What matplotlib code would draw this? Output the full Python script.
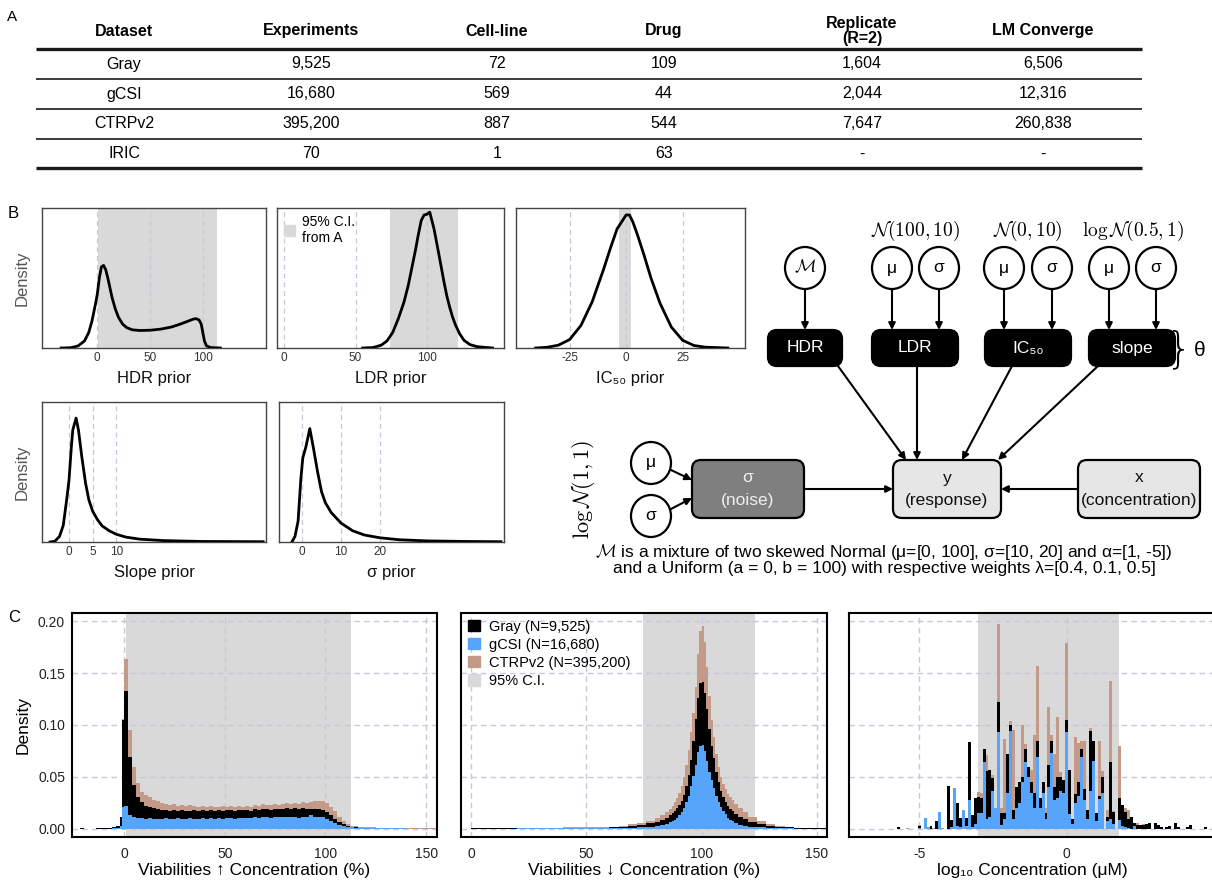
import matplotlib
matplotlib.use('Agg')
import matplotlib.pyplot as plt
from matplotlib.patches import FancyBboxPatch, Ellipse, Patch
import numpy as np

plt.rcParams['font.family'] = ['Liberation Sans', 'DejaVu Sans']
plt.rcParams['mathtext.fontset'] = 'cm'

# ---------------- data ----------------
table_columns = ['Dataset', 'Experiments', 'Cell-line', 'Drug', 'Replicate\n(R=2)', 'LM Converge']
table_datasets = ['Gray', 'gCSI', 'CTRPv2', 'IRIC']
table_experiments = ['9,525', '16,680', '395,200', '70']
table_celllines = ['72', '569', '887', '1']
table_drugs = ['109', '44', '544', '63']
table_replicates = ['1,604', '2,044', '7,647', '-']
table_lm_converge = ['6,506', '12,316', '260,838', '-']

# prior density curves (relative height)
hdr_x = [-34, -25, -18, -12, -8, -5, -2, 0, 2, 4, 6, 8, 10, 12, 14, 17, 20, 24, 28, 33, 40, 50, 60,
         70, 78, 85, 90, 93, 96, 98, 99.5, 101, 103, 107, 116]
hdr_y = [0, 0.002, 0.015, 0.05, 0.11, 0.19, 0.30, 0.38, 0.50, 0.58, 0.59, 0.56, 0.50, 0.43, 0.36, 0.28,
         0.22, 0.17, 0.145, 0.13, 0.125, 0.127, 0.135, 0.15, 0.17, 0.19, 0.205, 0.21, 0.20, 0.17, 0.11,
         0.05, 0.015, 0.003, 0]
ldr_x = [55, 62, 68, 72, 76, 80, 84, 87, 90, 92, 94, 96, 98, 100, 101, 102, 103, 105, 108, 110, 112,
         114, 116, 118, 120, 123, 126, 130, 135, 140, 146]
ldr_y = [0, 0.003, 0.02, 0.05, 0.11, 0.21, 0.33, 0.45, 0.60, 0.70, 0.81, 0.91, 0.95, 0.955, 0.965,
         0.97, 0.93, 0.85, 0.69, 0.58, 0.47, 0.37, 0.29, 0.22, 0.165, 0.10, 0.055, 0.025, 0.01, 0.005, 0]
ic50_x = [-40, -35, -30, -25, -20, -15, -10, -7, -4, -2, 0, 1.5, 3, 5, 8, 11, 15, 20, 25, 30, 35, 45]
ic50_y = [0, 0.005, 0.02, 0.06, 0.16, 0.33, 0.56, 0.71, 0.85, 0.90, 0.95, 0.95, 0.90, 0.81, 0.66,
          0.50, 0.32, 0.15, 0.055, 0.018, 0.006, 0]
slope_x = [-4, -3, -2, -1.2, -0.5, 0, 0.5, 0.8, 1.5, 2, 2.7, 3.5, 4.2, 5, 6, 7, 8.5, 10, 12, 15, 20, 28, 41]
slope_y = [0, 0.005, 0.04, 0.12, 0.30, 0.44, 0.68, 0.80, 0.885, 0.80, 0.61, 0.42, 0.30, 0.22, 0.16,
           0.115, 0.08, 0.055, 0.035, 0.02, 0.01, 0.004, 0.002]
sigma_x = [-2.6, -1.8, -1, -0.3, 0.2, 1, 2, 3, 4, 5, 6, 7.5, 10, 13, 16, 20, 25, 32, 42, 51]
sigma_y = [0, 0.04, 0.15, 0.45, 0.60, 0.68, 0.81, 0.66, 0.50, 0.36, 0.28, 0.21, 0.135, 0.08, 0.05,
           0.03, 0.016, 0.008, 0.004, 0.002]

hdr_ci = (0.5, 113)
ldr_ci = (74, 122)
ic50_ci = (-3, 2)

# Panel C left: viabilities where response increases with concentration
visup_edges = [-22, -20, -14, -6, -4, -2, -1, 0, 2, 4, 6, 8, 10, 12, 14, 16, 18, 20, 22, 24, 26, 28,
               30, 32, 34, 36, 38, 40, 42, 44, 46, 48, 50, 52, 54, 56, 58, 60, 62, 64, 66, 68, 70, 72,
               74, 76, 78, 80, 82, 84, 86, 88, 90, 92, 94, 96, 98, 100, 102, 104, 106, 108, 110, 112,
               114, 116, 118, 120, 125, 130, 140, 156]
visup_ctrp = [0, 0, 0.001, 0.002, 0.003, 0.012, 0.106,
              0.163, 0.095, 0.060, 0.044, 0.036, 0.033, 0.031, 0.028, 0.027, 0.025,
              0.024, 0.023, 0.024, 0.022, 0.023, 0.022, 0.023, 0.022, 0.021, 0.022,
              0.021, 0.022, 0.021, 0.021, 0.022, 0.021, 0.022, 0.021, 0.022, 0.021,
              0.022, 0.021, 0.023, 0.022, 0.024, 0.023, 0.023, 0.024, 0.023, 0.024,
              0.025, 0.024, 0.025, 0.024, 0.026, 0.025, 0.026, 0.027, 0.027, 0.027,
              0.025, 0.021, 0.017, 0.012, 0.008, 0.005, 0.003, 0.0025, 0.002, 0.0018,
              0.0015, 0.001, 0.0008, 0.0006]
visup_gray = [0.0008, 0, 0.001, 0.002, 0.003, 0.0115, 0.1045,
              0.133, 0.069, 0.042, 0.031, 0.026, 0.022, 0.021, 0.020, 0.019, 0.018,
              0.018, 0.017, 0.018, 0.017, 0.018, 0.017, 0.017, 0.018, 0.017, 0.018,
              0.017, 0.018, 0.017, 0.018, 0.017, 0.018, 0.018, 0.017, 0.018, 0.018,
              0.018, 0.017, 0.019, 0.018, 0.019, 0.019, 0.018, 0.019, 0.019, 0.019,
              0.020, 0.019, 0.020, 0.019, 0.020, 0.019, 0.019, 0.019, 0.019, 0.018,
              0.016, 0.013, 0.010, 0.007, 0.005, 0.003, 0.002, 0.0015, 0.001, 0.001,
              0.001, 0.0008, 0.0006, 0.0004]
visup_gcsi = [0, 0, 0, 0.0005, 0.001, 0.003, 0.021,
              0.022, 0.013, 0.012, 0.011, 0.011, 0.010, 0.011, 0.010, 0.010, 0.010,
              0.011, 0.010, 0.010, 0.011, 0.010, 0.010, 0.011, 0.010, 0.010, 0.011,
              0.010, 0.011, 0.010, 0.011, 0.010, 0.011, 0.011, 0.010, 0.011, 0.011,
              0.011, 0.011, 0.012, 0.011, 0.012, 0.012, 0.011, 0.012, 0.012, 0.012,
              0.012, 0.012, 0.012, 0.011, 0.012, 0.012, 0.013, 0.012, 0.012, 0.012,
              0.010, 0.008, 0.006, 0.004, 0.003, 0.002, 0.0015, 0.001, 0.001, 0.001,
              0.0008, 0.0006, 0.0005, 0.0004]

# Panel C middle: viabilities where response decreases with concentration
visdown_edges = [0, 20, 40, 60, 64, 68, 72, 76, 80, 82, 84, 86, 87, 88, 89, 90, 91, 92, 93, 94, 95,
                 96, 97, 98, 99, 100, 101, 102, 103, 104, 105, 106, 107, 108, 109, 110, 111, 112,
                 113, 114, 116, 118, 120, 124, 128, 132, 136, 140, 155]
visdown_ctrp = [0.0012, 0.0012, 0.0015, 0.002, 0.003, 0.0045, 0.006, 0.008, 0.011, 0.013, 0.016,
                0.019, 0.022, 0.026, 0.030, 0.035, 0.041, 0.050, 0.062, 0.076, 0.093, 0.112, 0.137,
                0.168, 0.190, 0.195, 0.180, 0.156, 0.128, 0.105, 0.088, 0.072, 0.060, 0.050, 0.043,
                0.038, 0.034, 0.031, 0.028,
                0.024, 0.020, 0.016, 0.012, 0.008, 0.005, 0.003, 0.002, 0.0012]
visdown_gray = [0.0012, 0.0012, 0.0012, 0.0015, 0.002, 0.003, 0.004, 0.0055, 0.007, 0.009, 0.011,
                0.013, 0.015, 0.017, 0.020, 0.023, 0.027, 0.033, 0.041, 0.052, 0.066, 0.085, 0.106,
                0.126, 0.140, 0.141, 0.131, 0.115, 0.096, 0.080, 0.068, 0.055, 0.045, 0.037, 0.031,
                0.026, 0.022, 0.019, 0.017,
                0.014, 0.012, 0.010, 0.007, 0.005, 0.003, 0.002, 0.0015, 0.0012]
visdown_gcsi = [0.0003, 0.0005, 0.0006, 0.0008, 0.001, 0.0012, 0.0015, 0.002, 0.003, 0.004, 0.005,
                0.007, 0.008, 0.009, 0.011, 0.013, 0.016, 0.020, 0.026, 0.032, 0.041, 0.051, 0.062,
                0.074, 0.080, 0.081, 0.075, 0.065, 0.055, 0.047, 0.039, 0.032, 0.026, 0.021, 0.017,
                0.014, 0.011, 0.009, 0.008,
                0.006, 0.004, 0.003, 0.002, 0.0015, 0.001, 0.0008, 0.0006, 0.0004]

# Panel C right: log10 concentration histogram (bin centres, width 0.1)
conc_log10 = [-5.7, -5.4, -5.0, -4.8, -4.7, -4.6, -4.5, -4.4, -4.3, -4.2,
              -4.0, -3.9, -3.8, -3.7, -3.6, -3.5, -3.4, -3.3, -3.2, -3.1,
              -3.0, -2.9, -2.8, -2.7, -2.6, -2.5, -2.4, -2.3, -2.2, -2.1,
              -2.0, -1.9, -1.8, -1.7, -1.6, -1.5, -1.4, -1.3, -1.2, -1.1,
              -1.0, -0.9, -0.8, -0.7, -0.6, -0.5, -0.4, -0.3, -0.2, -0.1,
              0.0, 0.1, 0.2, 0.3, 0.4, 0.5, 0.6, 0.7, 0.8, 0.9,
              1.0, 1.1, 1.2, 1.4, 1.5, 1.6, 1.8, 1.9, 2.0, 2.1,
              2.2, 2.3, 2.4, 2.5, 2.6, 2.7, 2.8, 3.0, 3.1, 3.2,
              3.4, 3.5, 3.7, 3.8, 4.1, 4.2, 4.7]
conc_ctrp = [0, 0.001, 0.004, 0, 0, 0, 0.001, 0, 0, 0,
             0, 0, 0, 0, 0, 0.018, 0, 0, 0, 0.030,
             0.036, 0.035, 0.076, 0.071, 0.050, 0.052, 0.020, 0.197, 0.020, 0.087,
             0.070, 0.104, 0.095, 0.020, 0.040, 0.100, 0.082, 0.035, 0.057, 0.090,
             0.157, 0.026, 0.020, 0.020, 0.117, 0.090, 0.072, 0.108, 0.055, 0.015,
             0.179, 0.017, 0.010, 0.088, 0.083, 0.085, 0.085, 0.018, 0.097, 0.085,
             0.015, 0.085, 0.056, 0.018, 0.142, 0.017, 0.080, 0.020, 0.020, 0.018,
             0.011, 0.003, 0.006, 0, 0.005, 0, 0, 0, 0, 0,
             0, 0, 0, 0, 0, 0, 0]
conc_gray = [0.002, 0, 0.003, 0, 0.001, 0.003, 0, 0.008, 0, 0.001,
             0.041, 0.009, 0.002, 0.025, 0.011, 0.010, 0.011, 0.084, 0.013, 0.030,
             0.031, 0.030, 0.077, 0.056, 0.057, 0.049, 0.020, 0.122, 0.015, 0.015,
             0.072, 0.100, 0.018, 0.040, 0.045, 0.050, 0.077, 0.060, 0.045, 0.035,
             0.085, 0.030, 0.045, 0.015, 0.062, 0.085, 0.040, 0.050, 0.050, 0.047,
             0.105, 0.057, 0.010, 0.034, 0.045, 0.077, 0.038, 0.018, 0.094, 0.085,
             0.015, 0.032, 0.050, 0.012, 0.064, 0.016, 0.030, 0.023, 0.016, 0.010,
             0.012, 0.006, 0.004, 0.004, 0.004, 0.005, 0.006, 0.006, 0.004, 0.002,
             0.002, 0.003, 0.006, 0.002, 0.002, 0.004, 0.002]
conc_gcsi = [0, 0, 0.001, 0.011, 0.002, 0, 0, 0, 0.016, 0.001,
             0, 0.002, 0.039, 0.003, 0.002, 0.017, 0.003, 0.028, 0.002, 0.005,
             0.015, 0.015, 0.064, 0.010, 0.012, 0.037, 0.020, 0.093, 0.004, 0.010,
             0.035, 0.094, 0.010, 0.020, 0.025, 0.045, 0.064, 0.050, 0.035, 0.020,
             0.069, 0.020, 0.035, 0.010, 0.040, 0.073, 0.028, 0.030, 0.037, 0.035,
             0.093, 0.014, 0.005, 0.025, 0.032, 0.069, 0.028, 0.010, 0.037, 0.065,
             0.008, 0.029, 0.035, 0.008, 0.010, 0.005, 0.009, 0.003, 0.002, 0.001,
             0, 0.003, 0, 0, 0, 0, 0, 0, 0, 0,
             0, 0, 0, 0, 0, 0, 0]
conc_bin_width = 0.1
visup_ci = (1, 112.6)
visdown_ci = (74.4, 123.3)
conc_ci = (-3.0, 1.79)

legend_labels = ['Gray (N=9,525)', 'gCSI (N=16,680)', 'CTRPv2 (N=395,200)', '95% C.I.']

# ---------------- style ----------------
C_GRAY = '#000000'
C_GCSI = '#56a5fa'
C_CTRP = '#c39a87'
C_SHADE = '#d9d9d9'
C_GRID = '#c8c8dc'

W, H = 1212, 882
fig = plt.figure(figsize=(W / 100, H / 100), dpi=100)

bg = fig.add_axes([0, 0, 1, 1])
bg.set_xlim(0, W)
bg.set_ylim(H, 0)
bg.axis('off')


def px_axes(x0, y0, x1, y1):
    return fig.add_axes([x0 / W, 1 - y1 / H, (x1 - x0) / W, (y1 - y0) / H])


# ---------------- panel A: table ----------------
bg.text(7, 17, 'A', fontsize=11, ha='left', va='center')
col_x = [124, 311, 497, 664, 862, 1043]
for cx, name in zip(col_x, table_columns):
    bg.text(cx, 31, name, ha='center', va='center', fontsize=11.5, fontweight='bold', linespacing=1.05)
row_y = [64, 94, 124, 154]
columns = [table_datasets, table_experiments, table_celllines, table_drugs, table_replicates,
           table_lm_converge]
for cx, col in zip(col_x, columns):
    for ry, val in zip(row_y, col):
        bg.text(cx, ry, val, ha='center', va='center', fontsize=11.5)
for ly, lw in [(49, 2.4), (79, 1.2), (109, 1.2), (138.5, 1.2), (168, 2.4)]:
    bg.plot([36, 1142], [ly, ly], color='#1a1a1a', lw=lw, solid_capstyle='butt')

# ---------------- panel B: priors ----------------
bg.text(8, 213, 'B', fontsize=12, ha='left', va='center')


def prior_axes(box, x, y, xlim, ticks, xlabel, ci=None, density=False):
    ax = px_axes(*box)
    ax.set_xlim(*xlim)
    ax.set_ylim(0, 1.0)
    if ci is not None:
        ax.axvspan(ci[0], ci[1], color=C_SHADE, lw=0, zorder=0)
    for t in ticks:
        ax.axvline(t, color=C_GRID, lw=0.9, ls=(0, (4, 3)), zorder=0.5)
    ax.plot(x, y, color='black', lw=2.0, zorder=3, solid_joinstyle='round')
    ax.set_xticks(ticks)
    ax.set_xticklabels([str(t) for t in ticks])
    ax.set_yticks([])
    ax.tick_params(axis='x', length=0, pad=3, labelsize=8.5, labelcolor='#333333')
    for s in ax.spines.values():
        s.set_color('#444444')
        s.set_linewidth(1.0)
    ax.set_xlabel(xlabel, fontsize=12, color='#111111', labelpad=5)
    if density:
        ax.set_ylabel('Density', fontsize=12, color='#555555', labelpad=9)
    return ax


prior_axes((42, 208, 266, 348), hdr_x, hdr_y, (-52, 159), [0, 50, 100], 'HDR prior', hdr_ci, True)
ax_ldr = prior_axes((277, 208, 504, 348), ldr_x, ldr_y, (-5, 154), [0, 50, 100], 'LDR prior', ldr_ci)
ax_ldr.legend([Patch(color=C_SHADE)], ['95% C.I.\nfrom A'], loc='upper left', frameon=False,
              fontsize=10, handlelength=0.8, handleheight=0.8, handletextpad=0.5,
              borderaxespad=0.3, borderpad=0.2)
prior_axes((516, 208, 745, 348), ic50_x, ic50_y, (-48.7, 52.6), [-25, 0, 25], 'IC₅₀ prior', ic50_ci)
prior_axes((42, 402, 266, 542), slope_x, slope_y, (-5.7, 41.6), [0, 5, 10], 'Slope prior', None, True)
prior_axes((279, 402, 504, 542), sigma_x, sigma_y, (-5.9, 51.8), [0, 10, 20], 'σ prior')

# ---------------- panel B: graphical model ----------------
def node_circle(x, y, label, fs=12.5):
    bg.add_patch(Ellipse((x, y), 40, 42, fc='white', ec='black', lw=1.6, zorder=3))
    bg.text(x, y, label, ha='center', va='center', fontsize=fs, zorder=4)


def node_box(xc, yc, w, h, fc, lines, tc, fs=12.5):
    bg.add_patch(FancyBboxPatch((xc - w / 2, yc - h / 2), w, h,
                                boxstyle='round,pad=0,rounding_size=9',
                                fc=fc, ec='black', lw=1.6, zorder=3))
    if len(lines) == 1:
        bg.text(xc, yc, lines[0], ha='center', va='center', fontsize=fs, color=tc, zorder=4)
    else:
        bg.text(xc, yc - 11, lines[0], ha='center', va='center', fontsize=fs, color=tc, zorder=4)
        bg.text(xc, yc + 12, lines[1], ha='center', va='center', fontsize=fs, color=tc, zorder=4)


def arrow(p0, p1):
    bg.annotate('', xy=p1, xytext=p0,
                arrowprops=dict(arrowstyle='-|>', color='black', lw=1.5, mutation_scale=10,
                                shrinkA=0, shrinkB=0), zorder=2)


cy = 268
by = 348
bh = 36
node_circle(805, cy, r'$\mathcal{M}$', 13)
node_circle(892, cy, 'μ')
node_circle(939, cy, 'σ')
node_circle(1004, cy, 'μ')
node_circle(1052, cy, 'σ')
node_circle(1109, cy, 'μ')
node_circle(1156, cy, 'σ')
bg.text(916, 231, r'$\mathcal{N}(100, 10)$', ha='center', va='center', fontsize=14)
bg.text(1028, 231, r'$\mathcal{N}(0, 10)$', ha='center', va='center', fontsize=14)
bg.text(1133, 231, r'$\log\mathcal{N}(0.5, 1)$', ha='center', va='center', fontsize=14)

box_x = {'HDR': 805, 'LDR': 915, 'IC₅₀': 1028, 'slope': 1132}
box_w = {'HDR': 74, 'LDR': 86, 'IC₅₀': 86, 'slope': 86}
for name, bx in box_x.items():
    node_box(bx, by, box_w[name], bh, 'black', [name], 'white')
for x in [805, 892, 939, 1004, 1052, 1109, 1156]:
    arrow((x, cy + 21), (x, by - bh / 2))
bg.text(1166, by + 2, '}', ha='left', va='center', fontsize=30, family='DejaVu Sans',
        fontweight='light')
bg.text(1200, by + 3, 'θ', ha='center', va='center', fontsize=15)

ry = 489
node_circle(651, 463, 'μ')
node_circle(651, 516, 'σ')
node_box(748, ry, 112, 58, '#7f7f7f', ['σ', '(noise)'], '#eeeeee')
node_box(947, ry, 108, 58, '#e6e6e6', ['y', '(response)'], '#111111')
node_box(1139, ry, 122, 58, '#e6e6e6', ['x', '(concentration)'], '#111111')
bg.text(583, ry, r'$\log\mathcal{N}(1, 1)$', ha='center', va='center', fontsize=16, rotation=90)
arrow((671, 470), (692, 480))
arrow((671, 509), (692, 498))
arrow((804, ry), (893, ry))
arrow((1078, ry), (1001, ry))
arrow((838, by + bh / 2), (906, 460))
arrow((917, by + bh / 2), (917, 460))
arrow((1012, by + bh / 2), (962, 460))
arrow((1098, by + bh / 2), (998, 460))

bg.text(884, 552, r'$\mathcal{M}$ is a mixture of two skewed Normal (μ=[0, 100], σ=[10, 20] and α=[1, -5])',
        ha='center', va='center', fontsize=12.5)
bg.text(884, 569, 'and a Uniform (a = 0, b = 100) with respective weights λ=[0.4, 0.1, 0.5]',
        ha='center', va='center', fontsize=12.5)

# ---------------- panel C: histograms ----------------
bg.text(8, 617, 'C', fontsize=12, ha='left', va='center')
yticks = [0.0, 0.05, 0.10, 0.15, 0.20]


def hist_axes(box, xlim, xticks, xlabel, ci, left_labels):
    ax = px_axes(*box)
    ax.set_xlim(*xlim)
    ax.set_ylim(-0.0077, 0.2077)
    ax.axvspan(ci[0], ci[1], color=C_SHADE, lw=0, zorder=0)
    ax.set_xticks(xticks)
    ax.set_xticklabels([str(t) for t in xticks])
    ax.set_yticks(yticks)
    if left_labels:
        ax.set_yticklabels(['%.2f' % t for t in yticks])
        ax.set_ylabel('Density', fontsize=12.5, labelpad=5)
    else:
        ax.set_yticklabels([])
    ax.grid(True, color=C_GRID, lw=1.0, ls=(0, (4, 3)), zorder=0.5)
    ax.set_axisbelow(True)
    ax.tick_params(length=0, labelsize=10, labelcolor='#222222')
    ax.tick_params(axis='x', pad=7)
    ax.tick_params(axis='y', pad=5)
    for s in ax.spines.values():
        s.set_color('black')
        s.set_linewidth(1.5)
    ax.set_xlabel(xlabel, fontsize=12.5, labelpad=2)
    return ax


def draw_edges_hist(ax, edges, series):
    e = np.asarray(edges, dtype=float)
    for vals, col in series:
        ax.bar(e[:-1], vals, width=np.diff(e), align='edge', color=col, lw=0, zorder=2)


ax_l = hist_axes((72, 613, 437, 837), (-25.8, 155.4), [0, 50, 100, 150],
                 'Viabilities ↑ Concentration (%)', visup_ci, True)
draw_edges_hist(ax_l, visup_edges, [(visup_ctrp, C_CTRP), (visup_gray, C_GRAY), (visup_gcsi, C_GCSI)])

ax_m = hist_axes((461, 613, 827, 837), (-4.3, 154.4), [0, 50, 100, 150],
                 'Viabilities ↓ Concentration (%)', visdown_ci, False)
draw_edges_hist(ax_m, visdown_edges,
                [(visdown_ctrp, C_CTRP), (visdown_gray, C_GRAY), (visdown_gcsi, C_GCSI)])
handles = [Patch(color=C_GRAY), Patch(color=C_GCSI), Patch(color=C_CTRP), Patch(color=C_SHADE)]
ax_m.legend(handles, legend_labels, loc='upper left', frameon=False, fontsize=10.5,
            handlelength=0.85, handleheight=0.85, handletextpad=0.6, labelspacing=0.28,
            borderaxespad=0.25, borderpad=0.2)

ax_r = hist_axes((849, 613, 1215, 837), (-7.38, 5.03), [-5, 0],
                 'log₁₀ Concentration (μM)', conc_ci, False)
for vals, col in [(conc_ctrp, C_CTRP), (conc_gray, C_GRAY), (conc_gcsi, C_GCSI)]:
    ax_r.bar(conc_log10, vals, width=conc_bin_width, align='center', color=col, lw=0, zorder=2)

fig.savefig('out.png', dpi=100)
